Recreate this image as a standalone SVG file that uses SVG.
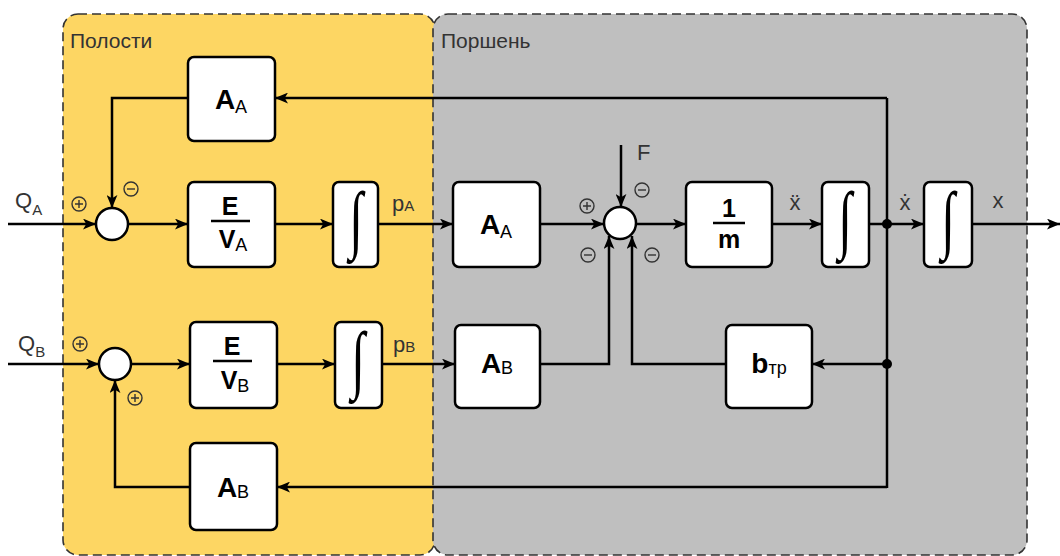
<svg xmlns="http://www.w3.org/2000/svg" width="1060" height="556" viewBox="0 0 1060 556">
  <defs>
    <marker id="arrow" viewBox="0 0 12 10" refX="12" refY="5" markerWidth="13" markerHeight="11" markerUnits="userSpaceOnUse" orient="auto">
      <path d="M0,0 L12,5 L0,10 L3,5 Z" fill="#000"/>
    </marker>
    <style>
      .panel { stroke: #333; stroke-width: 1.6; stroke-dasharray: 9 5; }
      .blk { fill: #fff; stroke: #000; stroke-width: 2.5; }
      .sum { fill: #fff; stroke: #000; stroke-width: 2.5; }
      .wire { fill: none; stroke: #000; stroke-width: 2.5; }
      .arr { marker-end: url(#arrow); }
      .dot { fill: #000; }
      .title { font-family: "Liberation Sans", Arial, sans-serif; font-size: 21px; fill: #333; }
      .lbl { font-family: "Liberation Sans", Arial, sans-serif; font-size: 22px; fill: #333; }
      .sub { font-size: 15px; }
      .gain { font-family: "Liberation Sans", Arial, sans-serif; font-size: 28px; font-weight: bold; fill: #000; text-anchor: middle; }
      .gsub { font-size: 18px; font-weight: normal; }
      .frac { font-family: "Liberation Sans", Arial, sans-serif; font-size: 25px; font-weight: bold; fill: #000; text-anchor: middle; }
      .integ { font-family: "Liberation Serif", "Times New Roman", serif; font-size: 50px; fill: #000; text-anchor: middle; }
      .sign circle { fill: none; stroke: #333; stroke-width: 1.4; }
      .sign path { fill: none; stroke: #333; stroke-width: 1.4; }
    </style>
    <g id="plus" class="sign"><circle r="7"/><path d="M-4,0 H4 M0,-4 V4"/></g>
    <g id="minus" class="sign"><circle r="7"/><path d="M-4,0 H4"/></g>
  </defs>

  <!-- subsystem panels -->
  <g id="panels">
    <rect class="panel" x="63" y="14" width="372" height="541" rx="15" fill="#FDD663"/>
    <rect class="panel" x="433" y="14" width="594" height="541" rx="15" fill="#BFBFBF"/>
    <text class="title" x="70" y="48">Полости</text>
    <text class="title" x="441" y="48">Поршень</text>
  </g>

  <!-- connectors -->
  <g id="connectors">
    <path class="wire arr" d="M8,224 H96"/>
    <path class="wire arr" d="M128,224 H188"/>
    <path class="wire arr" d="M275,224 H333"/>
    <path class="wire arr" d="M378,224 H453"/>
    <path class="wire arr" d="M540,224 H604"/>
    <path class="wire arr" d="M636,224 H686"/>
    <path class="wire arr" d="M772,224 H822"/>
    <path class="wire arr" d="M869,224 H924"/>
    <path class="wire arr" d="M972,224 H1060"/>
    <path class="wire arr" d="M621,145 V207"/>
    <path class="wire" d="M887,98 V488"/>
    <path class="wire arr" d="M887,98 H275"/>
    <path class="wire arr" d="M188,98 H112 V208"/>
    <path class="wire arr" d="M887,487 H277"/>
    <path class="wire arr" d="M190,487 H115 V380"/>
    <path class="wire arr" d="M8,364 H99"/>
    <path class="wire arr" d="M131,364 H190"/>
    <path class="wire arr" d="M277,364 H335"/>
    <path class="wire arr" d="M382,364 H455"/>
    <path class="wire arr" d="M540,364 H609 V236"/>
    <path class="wire arr" d="M726,364 H632 V236"/>
    <path class="wire arr" d="M887,364 H812"/>
    <circle class="dot" cx="887" cy="224" r="5"/>
    <circle class="dot" cx="887" cy="364" r="5"/>
  </g>

  <!-- summing junctions -->
  <g id="sumA"><circle class="sum" cx="112" cy="224" r="16"/></g>
  <g id="sumB"><circle class="sum" cx="115" cy="364" r="16"/></g>
  <g id="sumF"><circle class="sum" cx="620" cy="223" r="16"/></g>

  <!-- signs -->
  <g id="signs">
    <use href="#plus" x="79" y="204"/>
    <use href="#minus" x="131" y="189"/>
    <use href="#plus" x="80" y="344"/>
    <use href="#plus" x="135" y="398"/>
    <use href="#plus" x="587" y="206"/>
    <use href="#minus" x="642" y="190"/>
    <use href="#minus" x="588" y="255"/>
    <use href="#minus" x="652" y="255"/>
  </g>

  <!-- blocks -->
  <g id="AA_fb">
    <rect class="blk" x="188" y="57" width="87" height="84" rx="6"/>
    <text class="gain" x="231" y="109">A<tspan class="gsub" dy="4">A</tspan></text>
  </g>
  <g id="EVA">
    <rect class="blk" x="188" y="182" width="87" height="85" rx="6"/>
    <text class="frac" x="230" y="215">E</text>
    <path d="M211,221 H250" stroke="#000" stroke-width="2.5"/>
    <text class="frac" x="233" y="248">V<tspan class="gsub" dy="3">A</tspan></text>
  </g>
  <g id="intPA">
    <rect class="blk" x="333" y="182" width="45" height="85" rx="6"/>
    <text class="integ" transform="translate(356,244) scale(1,1.5)">∫</text>
  </g>
  <g id="EVB">
    <rect class="blk" x="190" y="322" width="87" height="86" rx="6"/>
    <text class="frac" x="232" y="355">E</text>
    <path d="M213,361 H252" stroke="#000" stroke-width="2.5"/>
    <text class="frac" x="235" y="389">V<tspan class="gsub" dy="3">B</tspan></text>
  </g>
  <g id="intPB">
    <rect class="blk" x="335" y="322" width="47" height="86" rx="6"/>
    <text class="integ" transform="translate(358,384) scale(1,1.5)">∫</text>
  </g>
  <g id="AB_fb">
    <rect class="blk" x="190" y="443" width="87" height="87" rx="6"/>
    <text class="gain" x="233" y="497">A<tspan class="gsub" dy="1">B</tspan></text>
  </g>
  <g id="AA">
    <rect class="blk" x="453" y="182" width="87" height="85" rx="6"/>
    <text class="gain" x="496" y="234">A<tspan class="gsub" dy="4">A</tspan></text>
  </g>
  <g id="AB">
    <rect class="blk" x="455" y="325" width="85" height="83" rx="6"/>
    <text class="gain" x="497" y="373">A<tspan class="gsub" dy="1">B</tspan></text>
  </g>
  <g id="inv_m">
    <rect class="blk" x="686" y="182" width="86" height="85" rx="6"/>
    <text class="frac" x="729" y="217" font-size="28">1</text>
    <path d="M713,223 H745" stroke="#000" stroke-width="2.5"/>
    <text class="frac" x="729" y="248" font-size="28">m</text>
  </g>
  <g id="intV">
    <rect class="blk" x="822" y="182" width="47" height="85" rx="6"/>
    <text class="integ" transform="translate(845,244) scale(1,1.5)">∫</text>
  </g>
  <g id="intX">
    <rect class="blk" x="924" y="182" width="48" height="85" rx="6"/>
    <text class="integ" transform="translate(948,244) scale(1,1.5)">∫</text>
  </g>
  <g id="btr">
    <rect class="blk" x="726" y="325" width="86" height="83" rx="6"/>
    <text class="gain" x="769" y="373">b<tspan class="gsub" dy="1">тр</tspan></text>
  </g>

  <!-- signal labels -->
  <g id="labels">
    <text class="lbl" x="15" y="208">Q<tspan class="sub" dy="7">A</tspan></text>
    <text class="lbl" x="18" y="351">Q<tspan class="sub" dy="6">B</tspan></text>
    <text class="lbl" x="392" y="211">p<tspan class="sub">A</tspan></text>
    <text class="lbl" x="393" y="352">p<tspan class="sub">B</tspan></text>
    <text class="lbl" x="637" y="160">F</text>
    <text class="lbl" x="795" y="210" font-size="21" text-anchor="middle">ẍ</text>
    <text class="lbl" x="905" y="210" font-size="21" text-anchor="middle">ẋ</text>
    <text class="lbl" x="998" y="208" font-size="21" text-anchor="middle">x</text>
  </g>
</svg>
